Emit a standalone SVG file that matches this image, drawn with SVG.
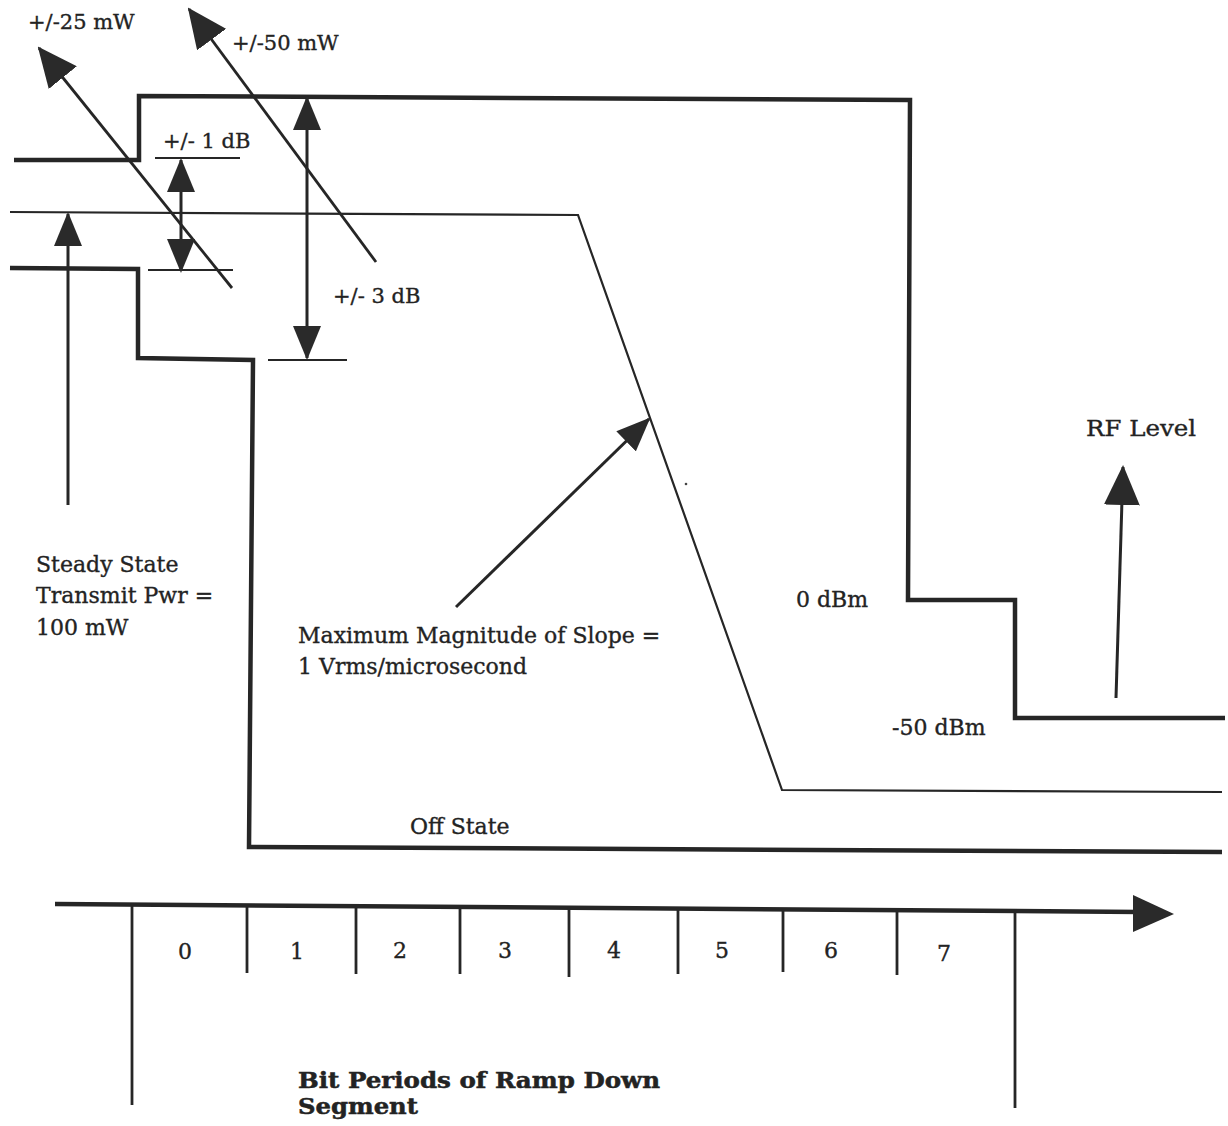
<svg xmlns="http://www.w3.org/2000/svg" width="1228" height="1126" viewBox="0 0 1228 1126">
<defs>
<style>
.t{font-family:"DejaVu Serif","Liberation Serif",serif;font-size:22px;fill:#232323;stroke:#232323;stroke-width:0.35}
.s{font-size:21px}
.b{font-weight:bold;font-size:22px;stroke-width:0.5}
.thick{fill:none;stroke:#262626;stroke-width:4.5;stroke-linejoin:miter}
.thin{fill:none;stroke:#262626;stroke-width:2.2}
.diag{fill:none;stroke:#262626;stroke-width:2.8}
.arr{fill:none;stroke:#262626;stroke-width:3}
.tick{fill:none;stroke:#262626;stroke-width:2.8}
</style>
<marker id="ah" viewBox="0 0 34 28" refX="32" refY="14" markerWidth="34" markerHeight="28" markerUnits="userSpaceOnUse" orient="auto-start-reverse">
<path d="M0,0 L34,14 L0,28 z" fill="#2a2a2a"/>
</marker>
<marker id="ahL" viewBox="0 0 40 36" refX="38" refY="18" markerWidth="40" markerHeight="36" markerUnits="userSpaceOnUse" orient="auto">
<path d="M0,0 L40,18 L0,36 z" fill="#2a2a2a"/>
</marker>
</defs>
<rect width="1228" height="1126" fill="#ffffff"/>

<g id="upper-mask">
<path class="thick" d="M14,160 L139,160 L139,96 L910,100 L908,600 L1015,600 L1015,718 L1225,718"/>
</g>
<g id="ramp-curve">
<path class="thin" d="M10,212 L578,215 L782,790 L1222,792"/>
</g>
<g id="lower-mask">
<path class="thick" d="M10,268 L138,269 L138,358 L253,360 L249,847 L1222,852"/>
</g>

<g id="tolerance-lines">
<line class="thin" x1="155" y1="158" x2="240" y2="158"/>
<line class="thin" x1="148" y1="270" x2="233" y2="270"/>
<line class="thin" x1="268" y1="360" x2="347" y2="360"/>
</g>

<g id="connectors">
<line class="diag" x1="232" y1="288" x2="39" y2="48" marker-end="url(#ahL)"/>
<line class="diag" x1="376" y1="262" x2="189" y2="9" marker-end="url(#ahL)"/>
<line class="arr" x1="181" y1="160" x2="181" y2="271" marker-start="url(#ah)" marker-end="url(#ah)"/>
<line class="arr" x1="307" y1="98" x2="307" y2="358" marker-start="url(#ah)" marker-end="url(#ah)"/>
<line class="arr" x1="68" y1="505" x2="68" y2="214" marker-end="url(#ah)"/>
<line class="arr" x1="456" y1="607" x2="649" y2="419" marker-end="url(#ah)"/>
<line class="arr" x1="1116" y1="698" x2="1123" y2="467" marker-end="url(#ahL)"/>
</g>

<g id="time-axis">
<path d="M55,904 L1140,912" fill="none" stroke="#262626" stroke-width="4.5"/>
<path d="M1133,895 L1174,914 L1133,932 z" fill="#2a2a2a"/>
<line class="tick" x1="132" y1="906" x2="132" y2="1105"/>
<line class="tick" x1="1015" y1="913" x2="1015" y2="1108"/>
<line class="tick" x1="247" y1="905" x2="247" y2="973"/>
<line class="tick" x1="356" y1="906" x2="356" y2="974"/>
<line class="tick" x1="460" y1="907" x2="460" y2="974"/>
<line class="tick" x1="569" y1="908" x2="569" y2="977"/>
<line class="tick" x1="678" y1="909" x2="678" y2="974"/>
<line class="tick" x1="783" y1="910" x2="783" y2="972"/>
<line class="tick" x1="897" y1="911" x2="897" y2="975"/>
</g>

<circle cx="686" cy="484" r="1.3" fill="#444"/>

<g id="labels">
<text class="t s" x="28" y="29">+/-25 mW</text>
<text class="t s" x="232" y="50">+/-50 mW</text>
<text class="t s" x="163" y="148">+/- 1 dB</text>
<text class="t s" x="333" y="303">+/- 3 dB</text>
<text class="t" x="36" y="572">Steady State</text>
<text class="t" x="36" y="603">Transmit Pwr =</text>
<text class="t" x="36" y="635">100 mW</text>
<text class="t" x="298" y="643">Maximum Magnitude of Slope =</text>
<text class="t" x="298" y="674">1 Vrms/microsecond</text>
<text class="t" x="1086" y="436" font-size="24" textLength="110" lengthAdjust="spacingAndGlyphs">RF Level</text>
<text class="t" x="796" y="607">0 dBm</text>
<text class="t" x="892" y="735">-50 dBm</text>
<text class="t" x="410" y="834">Off State</text>
<text class="t" x="185" y="959" text-anchor="middle">0</text>
<text class="t" x="297" y="959" text-anchor="middle">1</text>
<text class="t" x="400" y="958" text-anchor="middle">2</text>
<text class="t" x="505" y="958" text-anchor="middle">3</text>
<text class="t" x="614" y="958" text-anchor="middle">4</text>
<text class="t" x="722" y="958" text-anchor="middle">5</text>
<text class="t" x="831" y="958" text-anchor="middle">6</text>
<text class="t" x="944" y="961" text-anchor="middle">7</text>
<text class="t b" x="298" y="1088" textLength="362" lengthAdjust="spacingAndGlyphs">Bit Periods of Ramp Down</text>
<text class="t b" x="298" y="1114" textLength="120" lengthAdjust="spacingAndGlyphs">Segment</text>
</g>
</svg>
